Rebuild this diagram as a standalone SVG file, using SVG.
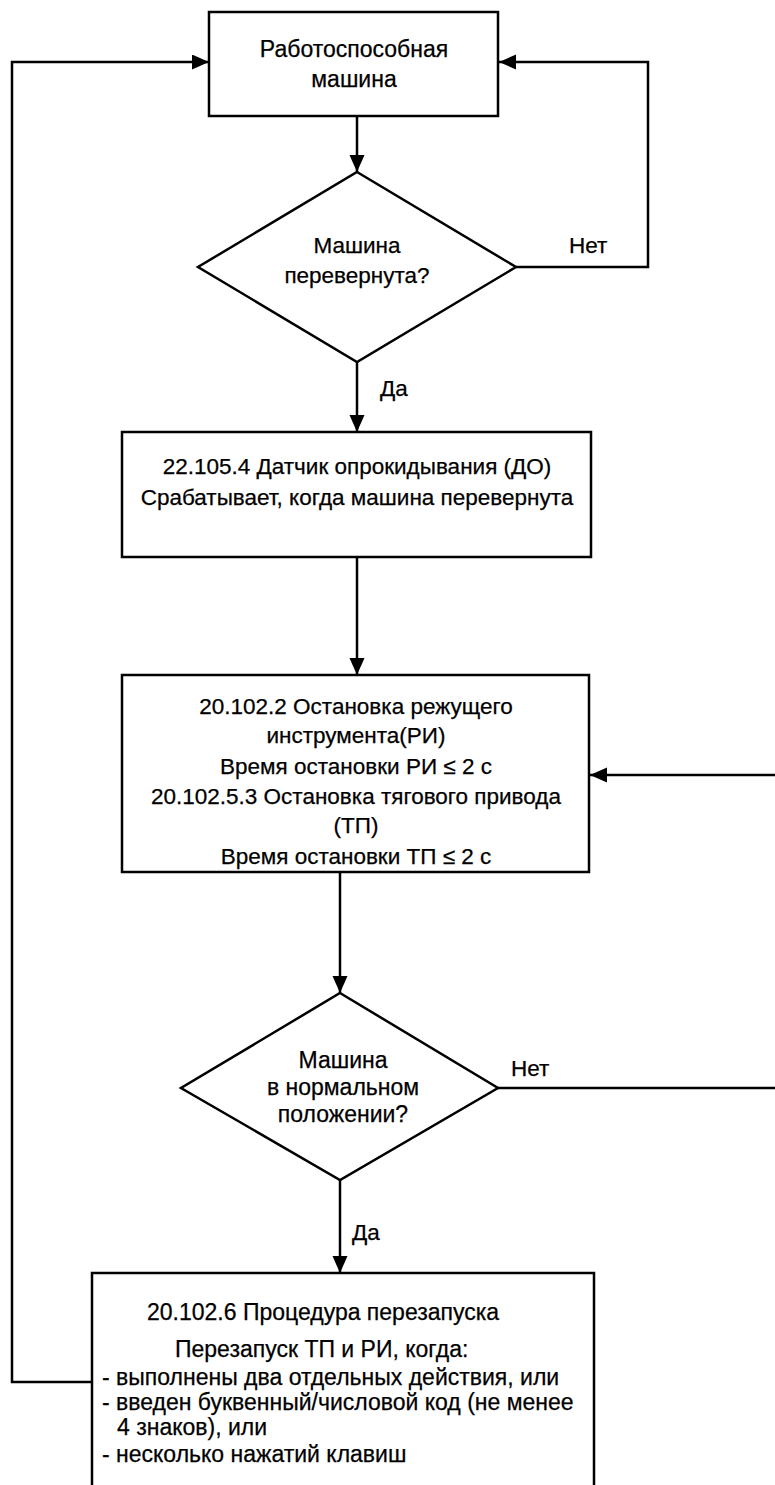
<svg xmlns="http://www.w3.org/2000/svg" width="775" height="1485" viewBox="0 0 775 1485">
<defs>
<style>
.t { font-family: "Liberation Sans", Arial, sans-serif; font-size: 22.5px; fill: #000; stroke: #000; stroke-width: 0.25; }
.L { font-size: 23px; }
.c { text-anchor: middle; }
.box { fill: #fff; stroke: #000; stroke-width: 2.5; }
.conn { fill: none; stroke: #000; stroke-width: 2.5; }
</style>
<marker id="arr" markerUnits="userSpaceOnUse" markerWidth="18" markerHeight="16" refX="17" refY="7.5" orient="auto">
<path d="M0,0 L17,7.5 L0,15 z" fill="#000"/>
</marker>
</defs>
<rect width="775" height="1485" fill="#fff"/>
<g id="connectors">
<path class="conn" d="M357,116 V172" marker-end="url(#arr)"/>
<path class="conn" d="M357,362 V432" marker-end="url(#arr)"/>
<path class="conn" d="M516,267 H648 V62 H499" marker-end="url(#arr)"/>
<path class="conn" d="M357,557 V675" marker-end="url(#arr)"/>
<path class="conn" d="M340,872 V993" marker-end="url(#arr)"/>
<path class="conn" d="M498,1088 H790 V775 H590" marker-end="url(#arr)"/>
<path class="conn" d="M340,1180 V1273" marker-end="url(#arr)"/>
<path class="conn" d="M92,1382 H12 V62 H209" marker-end="url(#arr)"/>
<text class="t" x="569" y="253">Нет</text>
<text class="t" x="380" y="396">Да</text>
<text class="t" x="511" y="1076">Нет</text>
<text class="t" x="352" y="1240">Да</text>
</g>
<g id="n1">
<rect class="box" x="209" y="12" width="289" height="104"/>
<text class="t L c" x="354" y="57">Работоспособная</text>
<text class="t L c" x="354" y="87">машина</text>
</g>
<g id="d1">
<polygon class="box" points="357,172 516,267 357,362 198,267"/>
<text class="t c" x="357" y="253">Машина</text>
<text class="t c" x="357" y="283">перевернута?</text>
</g>
<g id="n2">
<rect class="box" x="122" y="432" width="469" height="125"/>
<text class="t c" x="357" y="474">22.105.4 Датчик опрокидывания (ДО)</text>
<text class="t c" x="357" y="505">Срабатывает, когда машина перевернута</text>
</g>
<g id="n3">
<rect class="box" x="122" y="675" width="467" height="197"/>
<text class="t c" x="356" y="714">20.102.2 Остановка режущего</text>
<text class="t c" x="356" y="743">инструмента(РИ)</text>
<text class="t c" x="356" y="774">Время остановки РИ ≤ 2 с</text>
<text class="t c" x="356" y="804">20.102.5.3 Остановка тягового привода</text>
<text class="t c" x="356" y="833">(ТП)</text>
<text class="t c" x="356" y="864">Время остановки ТП ≤ 2 с</text>
</g>
<g id="d2">
<polygon class="box" points="340,993 498,1088 340,1180 181,1088"/>
<text class="t L c" x="343" y="1068">Машина</text>
<text class="t L c" x="343" y="1095">в нормальном</text>
<text class="t L c" x="343" y="1122">положении?</text>
</g>
<g id="n4">
<rect class="box" x="92" y="1273" width="502" height="230"/>
<text class="t L" x="147" y="1320">20.102.6 Процедура перезапуска</text>
<text class="t L" x="175" y="1357">Перезапуск ТП и РИ, когда:</text>
<text class="t L" x="102" y="1385">- выполнены два отдельных действия, или</text>
<text class="t L" x="102" y="1410">- введен буквенный/числовой код (не менее</text>
<text class="t L" x="117" y="1435">4 знаков), или</text>
<text class="t L" x="102" y="1462">- несколько нажатий клавиш</text>
</g>
</svg>
